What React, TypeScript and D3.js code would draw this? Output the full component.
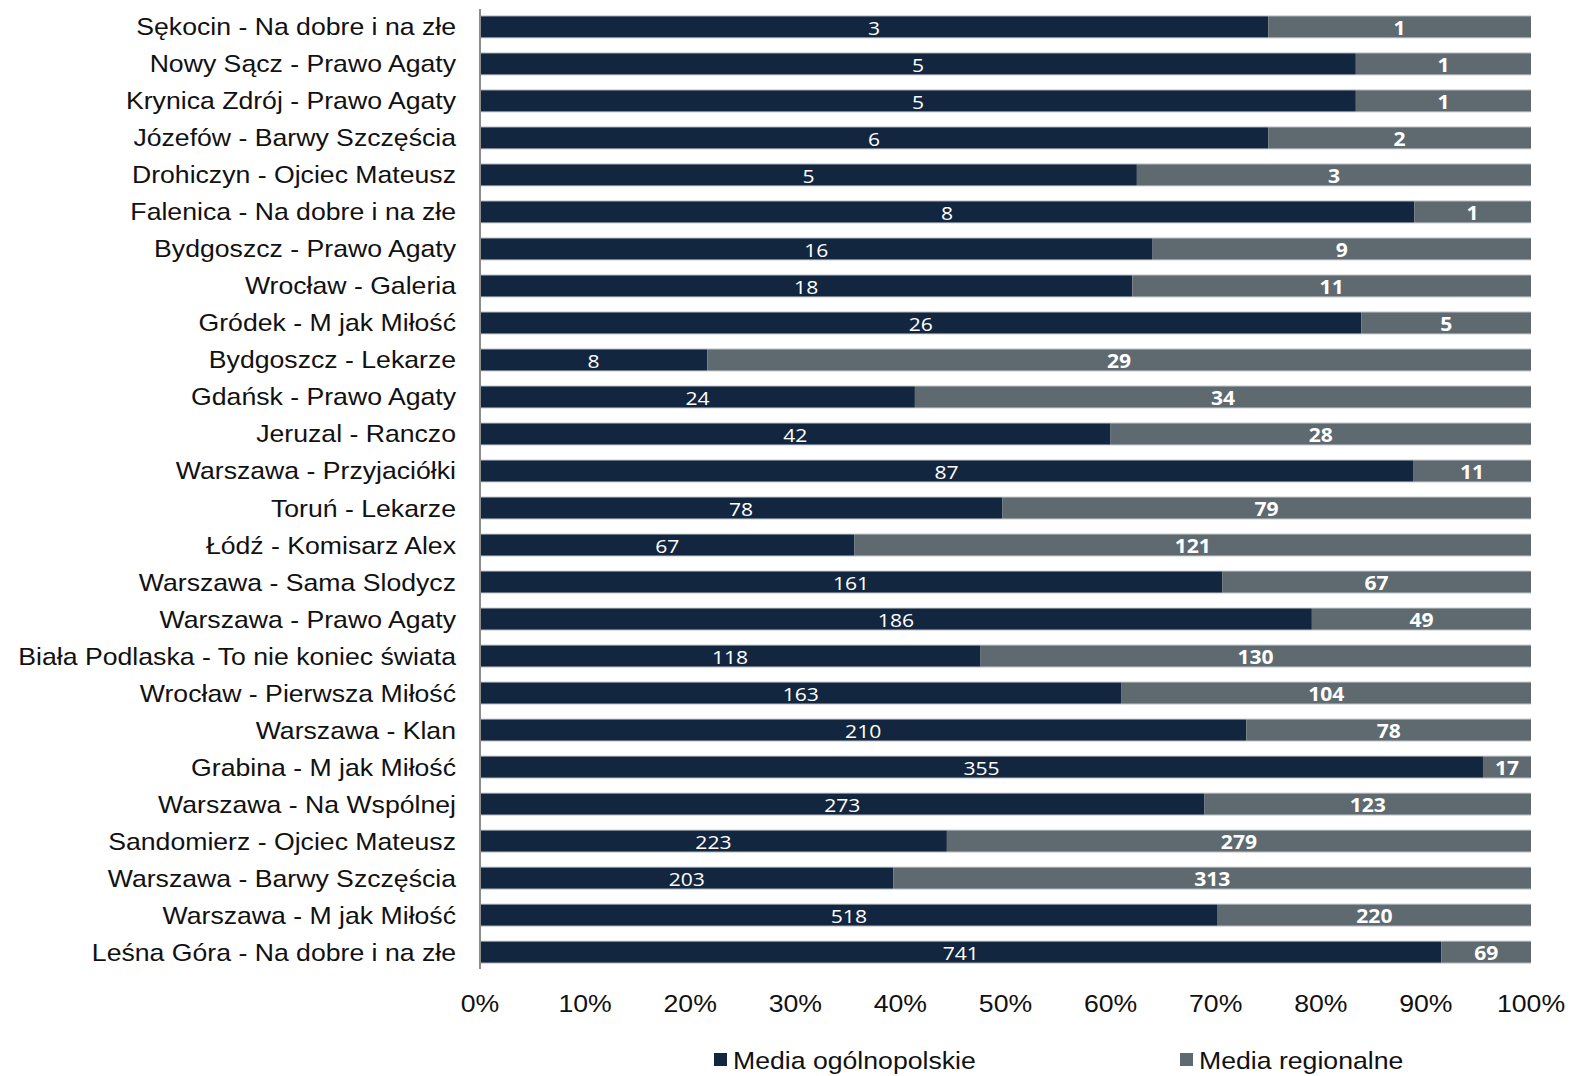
import * as d3 from 'd3';
import React, { ReactElement, useEffect, useRef } from 'react';

const WIDTH = 1572;
const HEIGHT = 1076;

const categories = [
  'Sękocin - Na dobre i na złe',
  'Nowy Sącz - Prawo Agaty',
  'Krynica Zdrój - Prawo Agaty',
  'Józefów - Barwy Szczęścia',
  'Drohiczyn - Ojciec Mateusz',
  'Falenica - Na dobre i na złe',
  'Bydgoszcz - Prawo Agaty',
  'Wrocław - Galeria',
  'Gródek - M jak Miłość ',
  'Bydgoszcz - Lekarze',
  'Gdańsk - Prawo Agaty',
  'Jeruzal - Ranczo',
  'Warszawa - Przyjaciółki',
  'Toruń - Lekarze',
  'Łódź - Komisarz Alex',
  'Warszawa - Sama Slodycz',
  'Warszawa - Prawo Agaty',
  'Biała Podlaska - To nie koniec świata',
  'Wrocław - Pierwsza Miłość',
  'Warszawa - Klan',
  'Grabina - M jak Miłość',
  'Warszawa - Na Wspólnej',
  'Sandomierz - Ojciec Mateusz',
  'Warszawa - Barwy Szczęścia',
  'Warszawa - M jak Miłość ',
  'Leśna Góra - Na dobre i na złe',
];

const national = [3, 5, 5, 6, 5, 8, 16, 18, 26, 8, 24, 42, 87, 78, 67, 161, 186, 118, 163, 210, 355, 273, 223, 203, 518, 741];
const regional = [1, 1, 1, 2, 3, 1, 9, 11, 5, 29, 34, 28, 11, 79, 121, 67, 49, 130, 104, 78, 17, 123, 279, 313, 220, 69];

const seriesNames = ['Media ogólnopolskie', 'Media regionalne'];
const colors = ['#13263f', '#5e6a6f'];
const tickValues = [0, 0.1, 0.2, 0.3, 0.4, 0.5, 0.6, 0.7, 0.8, 0.9, 1];

const LABEL_FONT = 'Arial, Helvetica, sans-serif';
const VALUE_FONT = '"Open Sans", "DejaVu Sans", sans-serif';
// the original chart text is a little wider than plain Arial
const STRETCH = 1.11;

const App = (): ReactElement => {
  const ref = useRef(null);

  useEffect(() => {
    const root = d3.select(ref.current);
    root.selectAll('*').remove();

    const svg = root
      .append('svg')
      .attr('width', WIDTH)
      .attr('height', HEIGHT)
      .style('position', 'absolute')
      .style('left', 0)
      .style('top', 0)
      .style('background', '#fff');

    const x = d3.scaleLinear().domain([0, 1]).range([480, 1531]);
    const y = d3
      .scaleBand()
      .domain(categories)
      .range([8.5, 970.5])
      .paddingInner(0.405)
      .paddingOuter(0.2);

    const rows = categories.map((c, i) => {
      const total = national[i] + regional[i];
      return { c, n: national[i], r: regional[i], pn: national[i] / total };
    });

    const g = svg.append('g');

    // national segments
    g.selectAll('rect.nat')
      .data(rows)
      .enter()
      .append('rect')
      .attr('x', x(0))
      .attr('y', (d) => y(d.c))
      .attr('width', (d) => x(d.pn) - x(0))
      .attr('height', y.bandwidth())
      .attr('fill', colors[0]);

    // regional segments
    g.selectAll('rect.reg')
      .data(rows)
      .enter()
      .append('rect')
      .attr('x', (d) => x(d.pn))
      .attr('y', (d) => y(d.c))
      .attr('width', (d) => x(1) - x(d.pn))
      .attr('height', y.bandwidth())
      .attr('fill', colors[1]);

    // thin light edges on bars
    g.selectAll('line.edge')
      .data(rows.flatMap((d) => [y(d.c), y(d.c) + y.bandwidth()]))
      .enter()
      .append('line')
      .attr('x1', x(0))
      .attr('x2', x(1))
      .attr('y1', (v) => v)
      .attr('y2', (v) => v)
      .attr('stroke', '#c8ccd0')
      .attr('stroke-width', 1);

    // value labels
    g.selectAll('text.nv')
      .data(rows)
      .enter()
      .append('text')
      .attr('transform', (d) => `translate(${(x(0) + x(d.pn)) / 2},${y(d.c) + y.bandwidth() / 2 + 8}) scale(${STRETCH},1)`)
      .attr('text-anchor', 'middle')
      .attr('font-family', VALUE_FONT)
      .attr('font-size', 19)
      .attr('fill', '#fff')
      .text((d) => d.n);

    g.selectAll('text.rv')
      .data(rows)
      .enter()
      .append('text')
      .attr('transform', (d) => `translate(${(x(d.pn) + x(1)) / 2},${y(d.c) + y.bandwidth() / 2 + 8}) scale(${STRETCH},1)`)
      .attr('text-anchor', 'middle')
      .attr('font-family', VALUE_FONT)
      .attr('font-size', 19)
      .attr('font-weight', 'bold')
      .attr('fill', '#fff')
      .text((d) => d.r);

    // category labels
    g.selectAll('text.cat')
      .data(categories)
      .enter()
      .append('text')
      .attr('transform', (d) => `translate(456,${y(d) + y.bandwidth() / 2 + 8.5}) scale(${STRETCH},1)`)
      .attr('text-anchor', 'end')
      .attr('font-family', LABEL_FONT)
      .attr('font-size', 24)
      .attr('fill', '#111')
      .text((d) => d);

    // vertical axis line
    g.append('line')
      .attr('x1', x(0))
      .attr('x2', x(0))
      .attr('y1', 9)
      .attr('y2', 969)
      .attr('stroke', '#8c8c8c')
      .attr('stroke-width', 2);

    // x tick labels
    g.selectAll('text.tick')
      .data(tickValues)
      .enter()
      .append('text')
      .attr('transform', (d) => `translate(${x(d)},1012) scale(${STRETCH},1)`)
      .attr('text-anchor', 'middle')
      .attr('font-family', LABEL_FONT)
      .attr('font-size', 24)
      .attr('fill', '#111')
      .text((d) => d3.format('.0%')(d));

    // legend
    const legendX = [714, 1180];
    const legend = g
      .selectAll('g.legend')
      .data(seriesNames)
      .enter()
      .append('g')
      .attr('transform', (d, i) => `translate(${legendX[i]}, 1060)`);
    legend
      .append('rect')
      .attr('x', 0)
      .attr('y', -7)
      .attr('width', 13)
      .attr('height', 13)
      .attr('fill', (d, i) => colors[i]);
    legend
      .append('text')
      .attr('transform', `translate(19,9) scale(${STRETCH},1)`)
      .attr('font-family', LABEL_FONT)
      .attr('font-size', 24)
      .attr('fill', '#111')
      .text((d) => d);
  }, []);

  return <div ref={ref}></div>;
};

export default App;
